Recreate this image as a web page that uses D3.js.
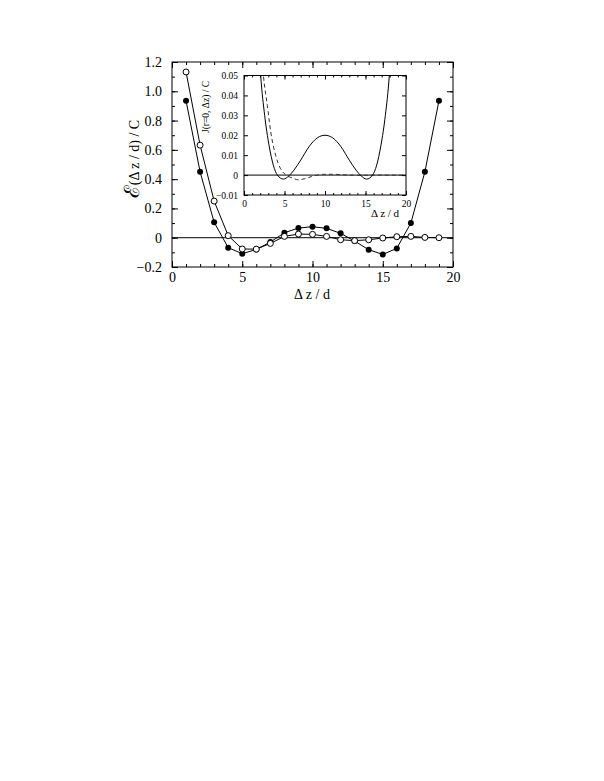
<!DOCTYPE html>
<html>
<head>
<meta charset="utf-8">
<script src="https://cdn.jsdelivr.net/npm/d3@7"></script>
<style>
  body { margin: 0; background: #fff; }
  svg text { font-family: "Liberation Serif", "Times New Roman", serif; fill: #000; }
</style>
</head>
<body>
<svg id="vis" width="604" height="781"></svg>
<script>
// main panel data: energy vs separation
var dz = [1, 2, 3, 4, 5, 6, 7, 8, 9, 10, 11, 12, 13, 14, 15, 16, 17, 18, 19];
var filledE = [0.935, 0.45, 0.105, -0.068, -0.109, -0.08, -0.03, 0.034, 0.066, 0.075, 0.064, 0.03, -0.023, -0.082, -0.114, -0.073, 0.1, 0.45, 0.935];
var openE = [1.132, 0.632, 0.25, 0.014, -0.077, -0.078, -0.039, 0.009, 0.025, 0.023, 0.009, -0.014, -0.02, -0.014, -0.002, 0.007, 0.009, 0.002, 0];

// inset: J(r=0, dz) curves
var solidX = [1.9, 2.06, 2.55, 3.09, 3.62, 4.12, 4.86, 5.56, 6.17, 7.0, 8.02, 9.05, 10.0, 10.95, 11.98, 13.0, 13.83, 14.44, 15.14, 15.88, 16.38, 16.91, 17.45, 17.94, 18.1];
var solidJ = [0.06, 0.05, 0.03, 0.015, 0.005, 0.0, -0.002, -0.0003, 0.0025, 0.0075, 0.0142, 0.0187, 0.020, 0.0187, 0.0142, 0.0075, 0.0025, -0.0003, -0.002, 0.0, 0.005, 0.015, 0.03, 0.05, 0.06];
var dashX = [2.2, 2.4, 2.88, 3.3, 3.9, 4.5, 5.1, 6.0, 6.7, 7.5, 8.3, 9.05, 10, 11, 12, 13, 14, 15, 16, 17, 18, 19, 20];
var dashJ = [0.06, 0.05, 0.035, 0.0217, 0.01, 0.0033, 0.0003, -0.0015, -0.0024, -0.0018, -0.0008, 0, 0.0004, 0.0004, 0.0002, 0, -0.0001, -0.0001, 0, 0, 0, 0, 0];

// tick labels
var mainXTicks = [0, 5, 10, 15, 20];
var mainYTicks = [-0.2, 0, 0.2, 0.4, 0.6, 0.8, 1.0, 1.2];
var insetXTicks = [0, 5, 10, 15, 20];
var insetYTicks = [-0.01, 0, 0.01, 0.02, 0.03, 0.04, 0.05];

var svg = d3.select("#vis");
svg.append("rect").attr("width", 604).attr("height", 781).attr("fill", "#fff");

// frame with inward ticks on all four sides
function frame(g, x, y, o) {
  var x0 = x.range()[0], x1 = x.range()[1], y0 = y.range()[0], y1 = y.range()[1];
  g.append("rect")
    .attr("x", x0).attr("y", y1).attr("width", x1 - x0).attr("height", y0 - y1)
    .attr("fill", "none").attr("stroke", "#000").attr("stroke-width", 1);

  // bottom
  g.append("g").attr("transform", "translate(0," + y0 + ")")
    .call(d3.axisBottom(x).tickValues(o.xMinor).tickSize(-o.minor).tickFormat(""))
    .call(clean);
  g.append("g").attr("transform", "translate(0," + y0 + ")")
    .call(d3.axisBottom(x).tickValues(o.xTicks).tickSize(-o.major).tickPadding(o.major + o.xPad).tickFormat(o.xFmt))
    .call(clean).selectAll("text").attr("font-size", o.font);
  // top
  g.append("g").attr("transform", "translate(0," + y1 + ")")
    .call(d3.axisTop(x).tickValues(o.xMinor).tickSize(-o.minor).tickFormat(""))
    .call(clean);
  g.append("g").attr("transform", "translate(0," + y1 + ")")
    .call(d3.axisTop(x).tickValues(o.xTicks).tickSize(-o.major).tickFormat(""))
    .call(clean);
  // left / right minor
  if (o.yMinor) {
    g.append("g").attr("transform", "translate(" + x0 + ",0)")
      .call(d3.axisLeft(y).tickValues(o.yMinor).tickSize(-o.minor).tickFormat(""))
      .call(clean);
    g.append("g").attr("transform", "translate(" + x1 + ",0)")
      .call(d3.axisRight(y).tickValues(o.yMinor).tickSize(-o.minor).tickFormat(""))
      .call(clean);
  }
  g.append("g").attr("transform", "translate(" + x0 + ",0)")
    .call(d3.axisLeft(y).tickValues(o.yTicks).tickSize(-o.major).tickPadding(o.major + o.yPad).tickFormat(o.yFmt))
    .call(clean).selectAll("text").attr("font-size", o.font);
  g.append("g").attr("transform", "translate(" + x1 + ",0)")
    .call(d3.axisRight(y).tickValues(o.yTicks).tickSize(-o.major).tickFormat(""))
    .call(clean);
}

function clean(sel) {
  sel.select(".domain").remove();
  sel.attr("font-family", null).attr("font-size", null);
  sel.selectAll("line").attr("stroke", "#000").attr("stroke-width", 1);
}

/***************** main panel *****************/
var x = d3.scaleLinear().domain([0, 20]).range([172, 453]);
var y = d3.scaleLinear().domain([-0.2, 1.2]).range([267, 62]);

var main = svg.append("g");

main.append("line")
  .attr("x1", x(0)).attr("x2", x(20)).attr("y1", y(0)).attr("y2", y(0))
  .attr("stroke", "#000").attr("stroke-width", 1);

var line = d3.line().x(function (d) { return x(d[0]); }).y(function (d) { return y(d[1]); });

var filledPts = dz.map(function (d, i) { return [d, filledE[i]]; });
var openPts = dz.map(function (d, i) { return [d, openE[i]]; });

main.append("path").datum(filledPts).attr("d", line)
  .attr("fill", "none").attr("stroke", "#000").attr("stroke-width", 1);
main.append("path").datum(openPts).attr("d", line)
  .attr("fill", "none").attr("stroke", "#000").attr("stroke-width", 1);

main.append("g").selectAll("circle").data(filledPts).enter().append("circle")
  .attr("cx", function (d) { return x(d[0]); })
  .attr("cy", function (d) { return y(d[1]); })
  .attr("r", 3).attr("fill", "#000");
main.append("g").selectAll("circle").data(openPts).enter().append("circle")
  .attr("cx", function (d) { return x(d[0]); })
  .attr("cy", function (d) { return y(d[1]); })
  .attr("r", 3).attr("fill", "#fff").attr("stroke", "#000").attr("stroke-width", 1);

frame(main, x, y, {
  xTicks: mainXTicks, xMinor: d3.range(0, 21, 1), yTicks: mainYTicks,
  yMinor: d3.range(-2, 13, 1).map(function (v) { return v / 10; }),
  major: 6, minor: 3, xPad: -1, yPad: 4, font: 14,
  xFmt: function (d) { return d; },
  yFmt: function (d) { return d === 0 ? "0" : d3.format(".1f")(d); }
});

main.append("text").attr("x", 312).attr("y", 299).attr("text-anchor", "middle")
  .attr("font-size", 14).text("Δ z / d");

var ylab = main.append("text")
  .attr("transform", "translate(139,159) rotate(-90)")
  .attr("text-anchor", "middle").attr("font-size", 14);
ylab.append("tspan").attr("font-size", 21).text("ℰ");
ylab.append("tspan").text("(Δ z / d) / C");

/***************** inset *****************/
var ix = d3.scaleLinear().domain([0, 20]).range([244, 406]);
var iy = d3.scaleLinear().domain([-0.01, 0.05]).range([195, 75.5]);

var inset = svg.append("g");
inset.append("rect").attr("x", 244).attr("y", 75.5).attr("width", 162).attr("height", 119.5).attr("fill", "#fff");

inset.append("clipPath").attr("id", "iclip").append("rect")
  .attr("x", 244).attr("y", 75.5).attr("width", 162).attr("height", 119.5);

inset.append("line")
  .attr("x1", ix(0)).attr("x2", ix(20)).attr("y1", iy(0)).attr("y2", iy(0))
  .attr("stroke", "#000").attr("stroke-width", 1);

var iline = d3.line().curve(d3.curveMonotoneX)
  .x(function (d) { return ix(d[0]); }).y(function (d) { return iy(d[1]); });

inset.append("path")
  .datum(dashX.map(function (d, i) { return [d, dashJ[i]]; }))
  .attr("d", iline).attr("clip-path", "url(#iclip)")
  .attr("fill", "none").attr("stroke", "#333").attr("stroke-width", 1)
  .attr("stroke-dasharray", "4,3");
inset.append("path")
  .datum(solidX.map(function (d, i) { return [d, solidJ[i]]; }))
  .attr("d", iline).attr("clip-path", "url(#iclip)")
  .attr("fill", "none").attr("stroke", "#000").attr("stroke-width", 1);

frame(inset, ix, iy, {
  xTicks: insetXTicks, xMinor: d3.range(0, 21, 1), yTicks: insetYTicks, yMinor: null,
  major: 4, minor: 2, xPad: 1, yPad: 2, font: 9.5,
  xFmt: function (d) { return d; },
  yFmt: function (d) { return d === 0 ? "0" : d3.format(".2f")(d); }
});

inset.append("text").attr("x", 385).attr("y", 217).attr("text-anchor", "middle")
  .attr("font-size", 11).text("Δ z / d");

inset.append("text")
  .attr("transform", "translate(209,107) rotate(-90)")
  .attr("text-anchor", "middle").attr("font-size", 9.5)
  .text("J(r=0, Δz) / C");
</script>
</body>
</html>
